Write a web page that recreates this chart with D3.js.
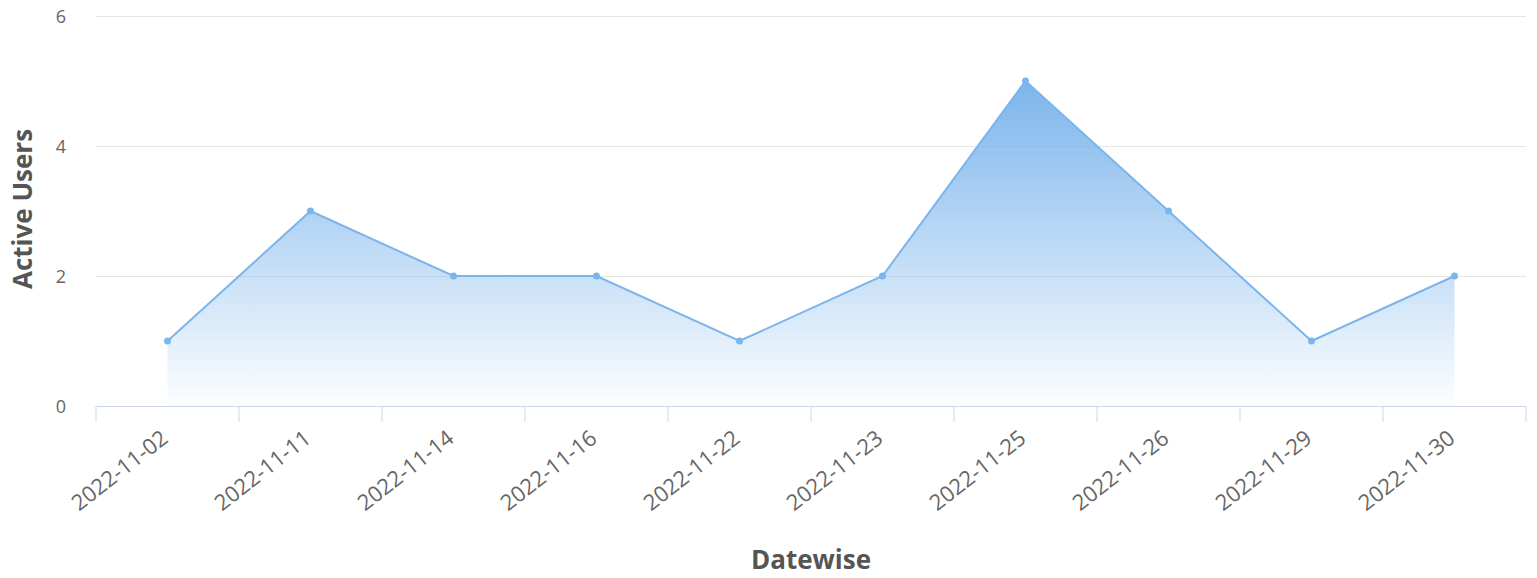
<!DOCTYPE html>
<html><head><meta charset="utf-8">
<script src="https://cdn.jsdelivr.net/npm/d3@7"></script>
<style>body{margin:0;background:#fff}svg{display:block;font-family:"Open Sans",sans-serif}</style>
</head><body><svg id="c" width="1537" height="578"></svg>
<script>
const categories = ["2022-11-02","2022-11-11","2022-11-14","2022-11-16","2022-11-22","2022-11-23","2022-11-25","2022-11-26","2022-11-29","2022-11-30"];
const activeUsers = [1,3,2,2,1,2,5,3,1,2];
const yTicks = [0,2,4,6];

(function(){
const svg = d3.select("#c");
const FONT = '"Open Sans", sans-serif';
const pL = 96, pR = 1526, pT = 16, pB = 406;
const x = d3.scaleBand().domain(categories).range([pL, pR]);
const y = d3.scaleLinear().domain([0,6]).range([pB, pT]);

const defs = svg.append("defs");
const g = defs.append("linearGradient").attr("id","ag").attr("x1",0).attr("y1",0).attr("x2",0).attr("y2",1);
g.append("stop").attr("offset",0).attr("stop-color","#7cb5ec").attr("stop-opacity",1);
g.append("stop").attr("offset",1).attr("stop-color","#7cb5ec").attr("stop-opacity",0.02);

const yAxis = d3.axisLeft(y).tickValues(yTicks).tickFormat(d3.format("d")).tickSize(-(pR-pL)).tickPadding(30);
const ya = svg.append("g").attr("transform",`translate(${pL},0)`).call(yAxis).attr("font-family",FONT);
ya.select(".domain").remove();
ya.selectAll(".tick line").attr("stroke","#e6e6e6").attr("stroke-width",1);
ya.selectAll(".tick text").attr("fill","#666").style("font-size","18px").attr("dy","0.35em");

const cx = d => x(d) + x.bandwidth()/2;
const pts = categories.map((c,i)=>({c, v: activeUsers[i]}));

svg.append("path").datum(pts)
  .attr("d", d3.area().x(d=>cx(d.c)).y0(y(0)).y1(d=>y(d.v)))
  .attr("fill","url(#ag)");
svg.append("path").datum(pts)
  .attr("d", d3.line().x(d=>cx(d.c)).y(d=>y(d.v)))
  .attr("fill","none").attr("stroke","#7cb5ec").attr("stroke-width",2);
svg.selectAll("circle.m").data(pts).join("circle").attr("class","m")
  .attr("cx",d=>cx(d.c)).attr("cy",d=>y(d.v)).attr("r",3.5).attr("fill","#7cb5ec");

const xAxis = d3.axisBottom(x).tickSize(0).tickPadding(0);
const xa = svg.append("g").attr("transform",`translate(0,${pB})`).call(xAxis).attr("font-family",FONT);
xa.select(".domain").attr("stroke","#ccd6eb").attr("d",`M${pL},0.5H${pR}`);
const edges = [pL, ...categories.map(c=>x(c)+x.bandwidth())];
xa.selectAll("line.tk").data(edges).join("line").attr("class","tk")
  .attr("x1",d=>d).attr("x2",d=>d).attr("y1",0).attr("y2",16).attr("stroke","#ccd6eb");
xa.selectAll(".tick text").attr("fill","#666").style("font-size","22px")
  .attr("text-anchor","end").attr("dy",0).attr("y",0)
  .attr("transform","translate(2,35) rotate(-38)");

svg.append("text").attr("x",811).attr("y",569).attr("text-anchor","middle").attr("font-family",FONT)
  .attr("fill","#555").style("font-size","26px").style("font-weight","bold").text("Datewise");
svg.append("text").attr("transform",`translate(32,209) rotate(-90)`).attr("text-anchor","middle").attr("font-family",FONT)
  .attr("fill","#555").style("font-size","26px").style("font-weight","bold").text("Active Users");
})();
</script></body></html>
